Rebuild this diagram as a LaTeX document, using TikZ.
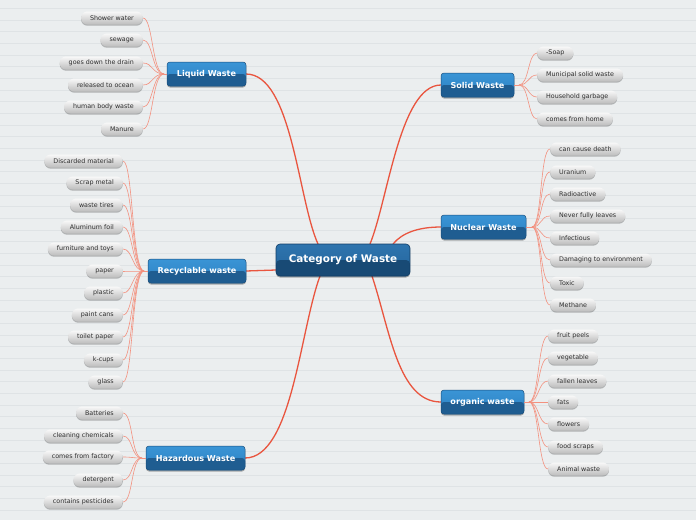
\documentclass[tikz,border=0pt]{standalone}
\usepackage{fontspec}
\newfontfamily\dv{DejaVu Sans}
\usetikzlibrary{shadows}
\definecolor{bgc}{HTML}{EBEEEF}
\definecolor{bgline}{HTML}{DFE3E5}
\definecolor{mainred}{HTML}{E9553F}
\definecolor{leafred}{HTML}{F3917F}
\definecolor{brtop}{HTML}{3A95D6}
\definecolor{brmid}{HTML}{2C7FC0}
\definecolor{brdark}{HTML}{1F5D91}
\definecolor{brborder}{HTML}{1A4E7C}
\definecolor{rttop}{HTML}{2E74AE}
\definecolor{rtmid}{HTML}{24659C}
\definecolor{rtdark}{HTML}{184A75}
\definecolor{rtborder}{HTML}{123E66}
\definecolor{pilltop}{HTML}{F8F8F8}
\definecolor{pillbot}{HTML}{BDBDBD}
\definecolor{pilltext}{HTML}{2E2E2E}
\tikzset{
  leafbox/.style={rounded corners=6.3pt, top color=pilltop, bottom color=pillbot,
    minimum height=13pt, inner ysep=0pt, inner xsep=9pt, text=pilltext,
    font=\dv\fontsize{6.35}{7.5}\selectfont,
    drop shadow={shadow xshift=0pt, shadow yshift=-1.2pt, opacity=0.25, fill=black}},
  branchbox/.style={rounded corners=3pt, draw=brborder, line width=0.5pt,
    top color=brtop, bottom color=brmid, minimum height=24pt, inner sep=0pt,
    text=white, font=\dv\bfseries\fontsize{8.1}{10}\selectfont,
    path picture={\fill[brdark] (path picture bounding box.west) rectangle (path picture bounding box.south east);},
    drop shadow={shadow xshift=0pt, shadow yshift=-1.5pt, opacity=0.3, fill=black}},
  rootbox/.style={rounded corners=4pt, draw=rtborder, line width=0.6pt,
    top color=rttop, bottom color=rtmid, minimum height=32pt, minimum width=134pt, inner sep=0pt,
    text=white, font=\dv\bfseries\fontsize{10.4}{12}\selectfont,
    path picture={\fill[rtdark] (path picture bounding box.west) rectangle (path picture bounding box.south east);},
    drop shadow={shadow xshift=0pt, shadow yshift=-1.5pt, opacity=0.3, fill=black}},
  mainline/.style={draw=mainred, line width=1.3pt},
  leafline/.style={draw=leafred, line width=0.6pt},
}
\begin{document}
\begin{tikzpicture}[x=1pt,y=-1pt]
\fill[bgc] (0,0) rectangle (696,520);
\useasboundingbox (0,0) rectangle (696,520);
\foreach \k in {0,...,44} {
  \draw[bgline, line width=0.8pt] (0,{8.3+11.67*\k}) -- (696,{8.3+11.67*\k});
}
% hubs and connector end points
\coordinate (hubL) at (164,74);
\coordinate (hubR) at (144,271);
\coordinate (hubH) at (142,458);
\coordinate (hubS) at (519,85);
\coordinate (hubN) at (532,227);
\coordinate (hubO) at (529,402);
\coordinate (rL) at (318,244);
\coordinate (rS) at (370,244);
\coordinate (rN) at (393,244);
\coordinate (rR) at (276,270);
\coordinate (rH) at (320,276);
\coordinate (rO) at (372,276);

% main connectors
\draw[mainline] (246,74) coordinate (eL) .. controls (292,74) and (298,200) .. (rL);
\draw[mainline] (441,85) coordinate (eS) .. controls (400,85) and (388,200) .. (rS);
\draw[mainline] (441,227) coordinate (eN) .. controls (418,227) and (402,233) .. (rN);
\draw[mainline] (246,271) coordinate (eR) -- (rR);
\draw[mainline] (245,458) coordinate (eH) .. controls (292,458) and (300,330) .. (rH);
\draw[mainline] (441,402) coordinate (eO) .. controls (398,402) and (390,330) .. (rO);

% root
\node[rootbox] (root) at (343,260) {Category of Waste};

% branches
\node[branchbox, minimum width=79pt] (liquid) at (206.5,74) {Liquid Waste};
\node[branchbox, minimum width=98pt] (recyc) at (197,271) {Recyclable waste};
\node[branchbox, minimum width=99pt] (haz) at (195.5,458) {Hazardous Waste};
\node[branchbox, minimum width=73pt] (solid) at (477.5,85) {Solid Waste};
\node[branchbox, minimum width=85pt] (nuc) at (483.5,227) {Nuclear Waste};
\node[branchbox, minimum width=83pt] (org) at (482.5,402) {organic waste};

\draw[leafline] (liquid.west) -- (hubL);
\draw[leafline] (recyc.west) -- (hubR);
\draw[leafline] (haz.west) -- (hubH);
\draw[leafline] (solid.east) -- (hubS);
\draw[leafline] (nuc.east) -- (hubN);
\draw[leafline] (org.east) -- (hubO);

% liquid leaves
\foreach \n/\y/\t in {l1/18/Shower water, l2/40/sewage, l3/63/goes down the drain, l4/85/released to ocean, l5/107/human body waste, l6/129/Manure} {
  \node[leafbox, anchor=east] (\n) at (143,\y) {\t};
  \draw[leafline] (hubL) .. controls +(-12,0) and +(10,0) .. (\n.east);
}
% recyclable leaves
\foreach \n/\y/\t in {r1/161/Discarded material, r2/183/Scrap metal, r3/205/waste tires, r4/227/Aluminum foil, r5/249/furniture and toys, r6/271/paper, r7/293/plastic, r8/315/paint cans, r9/337/toilet paper, r10/360/k-cups, r11/382/glass} {
  \node[leafbox, anchor=east] (\n) at (123,\y) {\t};
  \draw[leafline] (hubR) .. controls +(-12,0) and +(10,0) .. (\n.east);
}
% hazardous leaves
\foreach \n/\y/\t in {h1/413/Batteries, h2/436/cleaning chemicals, h3/457/comes from factory, h4/480/detergent, h5/502/contains pesticides} {
  \node[leafbox, anchor=east] (\n) at (123,\y) {\t};
  \draw[leafline] (hubH) .. controls +(-11,0) and +(10,0) .. (\n.east);
}
% solid leaves
\foreach \n/\y/\t in {s1/53/-Soap, s2/75/Municipal solid waste, s3/97/Household garbage, s4/119/comes from home} {
  \node[leafbox, anchor=west] (\n) at (537,\y) {\t};
  \draw[leafline] (hubS) .. controls +(10,0) and +(-9,0) .. (\n.west);
}
% nuclear leaves
\foreach \n/\y/\t in {n1/149/can cause death, n2/172/Uranium, n3/194/Radioactive, n4/216/Never fully leaves, n5/238/Infectious, n6/260/Damaging to environment, n7/283/Toxic, n8/305/Methane} {
  \node[leafbox, anchor=west] (\n) at (550,\y) {\t};
  \draw[leafline] (hubN) .. controls +(10,0) and +(-10,0) .. (\n.west);
}
% organic leaves
\foreach \n/\y/\t in {o1/336/fruit peels, o2/358/vegetable, o3/381/fallen leaves, o4/402/fats, o5/424/flowers, o6/447/food scraps, o7/469/Animal waste} {
  \node[leafbox, anchor=west] (\n) at (548,\y) {\t};
  \draw[leafline] (hubO) .. controls +(10,0) and +(-10,0) .. (\n.west);
}
\end{tikzpicture}
\end{document}
